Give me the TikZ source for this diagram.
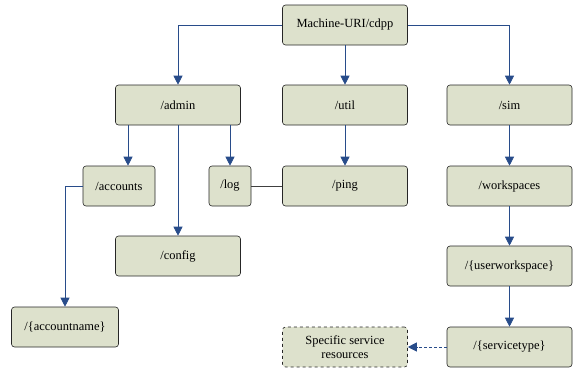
\documentclass[tikz,border=0pt]{standalone}
\usepackage{fontspec}
\setmainfont{Liberation Serif}
\usetikzlibrary{arrows.meta}
\definecolor{boxfill}{RGB}{221,225,204}
\definecolor{arrblue}{RGB}{40,76,138}
\begin{document}
\begin{tikzpicture}[x=1bp,y=-1bp,
	box/.style={draw=black!85,fill=boxfill,rounded corners=3bp,minimum height=40bp,minimum width=125bp,inner sep=0pt,font=\fontsize{12.5}{14}\selectfont,line width=0.6bp},
	arr/.style={draw=arrblue,line width=0.8bp,-{Triangle[length=9bp,width=9bp]}}]
	\useasboundingbox (0,0) rectangle (573,368);
	\node[box] (root) at (345,25) {Machine-URI/cdpp};
	\node[box] (admin) at (178,105) {/admin};
	\node[box] (util) at (345,105) {/util};
	\node[box] (sim) at (509.5,105) {/sim};
	\node[box,minimum width=72bp] (accounts) at (119,186) {/accounts};
	\node[box,minimum width=42bp] (log) at (230,186) {/log};
	\node[box] (ping) at (345,186) {/ping};
	\node[box] (workspaces) at (509.5,186) {/workspaces};
	\node[box] (config) at (178,256) {/config};
	\node[box] (userws) at (509.5,266) {/\{userworkspace\}};
	\node[box,minimum width=107bp] (accountname) at (65,327) {/\{accountname\}};
	\node[box] (servicetype) at (509.5,347) {/\{servicetype\}};
	\node[box,dashed,align=center] (specific) at (345,347) {Specific service\\resources};
	\draw[arr] (root.west) -| (admin.north);
	\draw[arr] (root.south) -- (util.north);
	\draw[arr] (root.east) -| (sim.north);
	\draw[arr] ([xshift=9bp]accounts.north |- admin.south) -- ([xshift=9bp]accounts.north);
	\draw[arr] (admin.south) -- (config.north);
	\draw[arr] (log.north |- admin.south) -- (log.north);
	\draw[arr] (accounts.west) -| (accountname.north);
	\draw[black!75,line width=0.8bp] (log.east) -- (ping.west);
	\draw[arr] (util.south) -- (ping.north);
	\draw[arr] (sim.south) -- (workspaces.north);
	\draw[arr] (workspaces.south) -- (userws.north);
	\draw[arr] (userws.south) -- (servicetype.north);
	\draw[arr,densely dashed] (servicetype.west) -- (specific.east);
\end{tikzpicture}
\end{document}
